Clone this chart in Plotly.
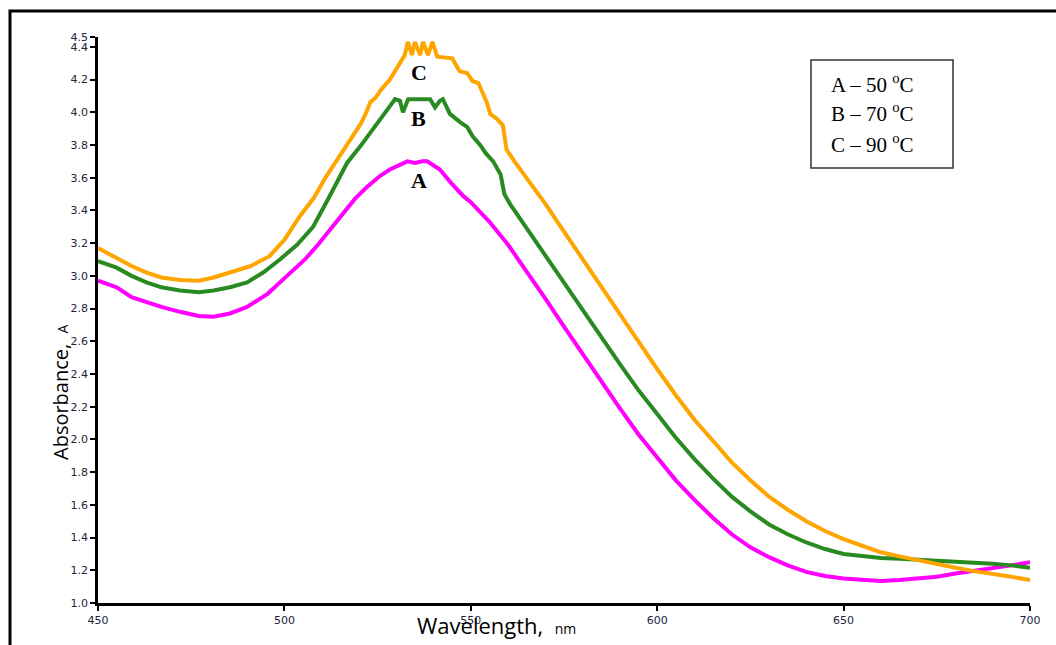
import plotly.graph_objects as go

# ---- data ----
wl_c = [450, 455, 459, 463, 467, 472, 477, 481, 485, 491, 496, 500, 504, 508, 511, 515, 518, 520.5,
        522, 523, 524.5, 526, 528.3, 529.5, 531, 532.3, 533.1, 534.2, 535.0, 536.4, 537.2, 538.5,
        539.7, 541, 545, 546, 547, 549, 550.5, 552, 553.3, 554.3, 555.2, 557, 558.6, 559.6, 562,
        565, 570, 575, 580, 585, 590, 595, 600, 605, 610, 615, 620, 625, 630, 635, 640, 645, 650,
        655, 660, 665, 670, 675, 680, 685, 690, 695, 700]
abs_c = [3.17, 3.11, 3.06, 3.02, 2.99, 2.975, 2.97, 2.99, 3.02, 3.06, 3.12, 3.22, 3.36, 3.48, 3.60,
         3.74, 3.84, 3.93, 4.00, 4.06, 4.09, 4.14, 4.20, 4.25, 4.30, 4.35, 4.43, 4.35, 4.43, 4.35,
         4.43, 4.35, 4.43, 4.34, 4.33, 4.29, 4.25, 4.24, 4.19, 4.18, 4.12, 4.06, 3.99, 3.96, 3.92,
         3.77, 3.69, 3.60, 3.44, 3.27, 3.10, 2.93, 2.76, 2.59, 2.43, 2.27, 2.12, 1.99, 1.86, 1.75,
         1.65, 1.57, 1.50, 1.44, 1.39, 1.35, 1.31, 1.285, 1.26, 1.235, 1.215, 1.195, 1.18, 1.16, 1.14]

wl_b = [450, 455, 459, 463, 467, 472, 477, 481, 485.4, 490, 494.3, 498.8, 503.4, 507.7, 512.2, 516.8,
        520.3, 523.8, 526.4, 528.3, 529.7, 531, 531.8, 533.2, 539.1, 540.4, 541.7, 542.5, 544.4,
        547.1, 549, 550.6, 552.5, 554, 556, 558, 559, 560.5, 565, 570, 575, 580, 585, 590, 595, 600,
        605, 610, 615, 620, 625, 630, 635, 640, 645, 650, 655, 660, 665, 670, 675, 680, 685, 690,
        695, 700]
abs_b = [3.09, 3.05, 3.00, 2.96, 2.93, 2.91, 2.90, 2.91, 2.93, 2.96, 3.02, 3.10, 3.19, 3.30, 3.49,
         3.69, 3.79, 3.90, 3.98, 4.04, 4.08, 4.07, 4.00, 4.08, 4.08, 4.03, 4.07, 4.08, 3.99, 3.94,
         3.91, 3.85, 3.80, 3.75, 3.70, 3.62, 3.50, 3.44, 3.29, 3.13, 2.96, 2.79, 2.62, 2.46, 2.30,
         2.15, 2.01, 1.88, 1.76, 1.65, 1.56, 1.48, 1.42, 1.37, 1.33, 1.30, 1.285, 1.275, 1.27,
         1.265, 1.26, 1.255, 1.25, 1.24, 1.23, 1.215]

wl_a = [450, 455, 459, 463, 467, 472, 477, 481, 485.4, 490, 492, 495.5, 498.8, 502, 505.5, 509,
        512.2, 515.5, 518.9, 522, 525.6, 528.3, 531, 533, 535, 537, 538.3, 541.7, 545, 547.9, 550,
        555, 560, 565, 570, 575, 580, 585, 590, 595, 600, 605, 610, 615, 620, 625, 630, 635, 640,
        645, 650, 655, 660, 665, 670, 675, 680, 685, 690, 695, 700]
abs_a = [2.97, 2.93, 2.87, 2.84, 2.81, 2.78, 2.755, 2.75, 2.77, 2.81, 2.84, 2.89, 2.96, 3.03, 3.10,
         3.19, 3.28, 3.37, 3.47, 3.54, 3.61, 3.65, 3.68, 3.70, 3.69, 3.70, 3.70, 3.65, 3.56, 3.49,
         3.45, 3.33, 3.19, 3.03, 2.86, 2.69, 2.52, 2.35, 2.19, 2.03, 1.89, 1.75, 1.63, 1.52, 1.42,
         1.34, 1.28, 1.23, 1.19, 1.165, 1.15, 1.14, 1.135, 1.14, 1.15, 1.16, 1.18, 1.195, 1.215,
         1.23, 1.25]

x_ticks = [450, 500, 550, 600, 650, 700]
y_tickvals = [1.0, 1.2, 1.4, 1.6, 1.8, 2.0, 2.2, 2.4, 2.6, 2.8, 3.0, 3.2, 3.4, 3.6, 3.8, 4.0, 4.2, 4.4, 4.46]
y_ticktext = ["1.0", "1.2", "1.4", "1.6", "1.8", "2.0", "2.2", "2.4", "2.6", "2.8", "3.0", "3.2",
              "3.4", "3.6", "3.8", "4.0", "4.2", "4.4", "4.5"]

legend_lines = ["A – 50 <sup>o</sup>C", "B – 70 <sup>o</sup>C", "C – 90 <sup>o</sup>C"]
curve_labels = [("C", 536.1, 4.24), ("B", 536.1, 3.96), ("A", 536.1, 3.58)]

# ---- figure ----
W, H = 1056, 645
L, R, T, B = 98, 26, 37, 42
pw, ph = W - L - R, H - T - B

def px(xp):
    return (xp - L) / pw

def py(yp):
    return (H - B - yp) / ph

fig = go.Figure()
fig.add_trace(go.Scatter(x=wl_a, y=abs_a, mode="lines", line=dict(color="#FF00FF", width=4)))
fig.add_trace(go.Scatter(x=wl_b, y=abs_b, mode="lines", line=dict(color="#2A8A22", width=4)))
fig.add_trace(go.Scatter(x=wl_c, y=abs_c, mode="lines", line=dict(color="#FFA500", width=4)))

tickfont = dict(family="DejaVu Sans", size=11, color="#22223a")
fig.update_xaxes(range=[450, 700], tickvals=x_ticks, ticks="outside", ticklen=5, tickwidth=1.5,
                 tickcolor="black", showline=True, linewidth=2.5, linecolor="black",
                 showgrid=False, zeroline=False, tickfont=tickfont)
fig.update_yaxes(range=[1.0, 4.46], tickvals=y_tickvals, ticktext=y_ticktext, ticks="outside",
                 ticklen=5, tickwidth=1.5, tickcolor="black", showline=True, linewidth=2.5,
                 linecolor="black", showgrid=False, zeroline=False, tickfont=tickfont)

annots = []
for t, x, y in curve_labels:
    annots.append(dict(x=x, y=y, xref="x", yref="y", text="<b>" + t + "</b>", showarrow=False,
                       font=dict(family="Liberation Serif", size=22, color="black")))
for i, t in enumerate(legend_lines):
    annots.append(dict(x=px(829), y=py(83 + 30 * i), xref="paper", yref="paper", text=t,
                       showarrow=False, xanchor="left", yanchor="middle",
                       font=dict(family="Liberation Serif", size=21, color="black")))
annots.append(dict(x=px(60), y=py(392), xref="paper", yref="paper", textangle=-90,
                   text="Absorbance,  <span style='font-size:14px'>A</span>", showarrow=False,
                   xanchor="center", yanchor="middle",
                   font=dict(family="Open Sans", size=20, color="black")))
annots.append(dict(x=px(496), y=py(625), xref="paper", yref="paper",
                   text="Wavelength,  <span style='font-size:14px'>nm</span>", showarrow=False,
                   xanchor="center", yanchor="middle",
                   font=dict(family="Open Sans", size=22, color="black")))

shapes = [
    dict(type="rect", xref="paper", yref="paper", x0=px(811), x1=px(953), y0=py(168), y1=py(60),
         line=dict(color="#333333", width=1.5), fillcolor="rgba(0,0,0,0)"),
    dict(type="rect", xref="paper", yref="paper", x0=px(10), x1=px(1070), y0=py(660), y1=py(11),
         line=dict(color="black", width=3), fillcolor="rgba(0,0,0,0)"),
]

fig.update_layout(width=W, height=H, margin=dict(l=L, r=R, t=T, b=B), showlegend=False,
                  plot_bgcolor="white", paper_bgcolor="white", annotations=annots, shapes=shapes)

fig.write_html("out.html")
